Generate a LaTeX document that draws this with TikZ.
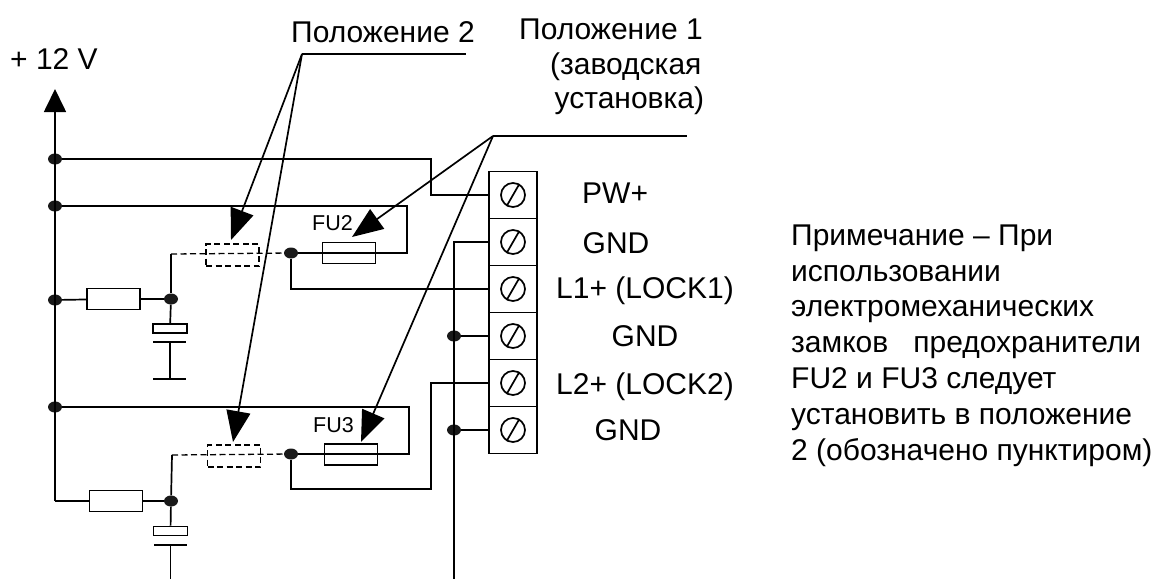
\documentclass[tikz,border=0pt]{standalone}
\usepackage{fontspec}
\setmainfont{Liberation Sans}
\usetikzlibrary{shapes,arrows.meta,positioning}
\tikzstyle{line} = [draw, line width=1.7pt]
\tikzstyle{dline} = [draw, line width=1.3pt, dash pattern=on 6pt off 3.5pt]
\tikzstyle{jnode} = [ellipse, fill=black!90, inner sep=0pt, minimum width=14pt, minimum height=11pt]
\tikzstyle{rnode} = [rectangle, draw, line width=1.7pt, inner sep=0pt, minimum width=53pt, minimum height=21pt]
\tikzstyle{dnode} = [rectangle, draw, line width=1.3pt, dash pattern=on 6pt off 3.5pt, inner sep=0pt, minimum width=53pt, minimum height=22pt]
\tikzstyle{cnode} = [rectangle, draw, line width=1.7pt, inner sep=0pt, minimum width=34pt, minimum height=9pt]
\tikzstyle{tnode} = [rectangle, draw, line width=1.7pt, inner sep=0pt, minimum width=48pt, minimum height=47pt]
\tikzstyle{snode} = [circle, draw, line width=1.7pt, inner sep=0pt, minimum size=24pt]
\tikzstyle{lbl} = [anchor=base west, inner sep=0pt, font=\fontsize{30}{32}\selectfont]
\tikzstyle{pointer} = [draw, line width=1.7pt, -{Triangle[length=31pt,width=24pt]}]
\begin{document}
\begin{tikzpicture}[x=1pt, y=-1pt]
	\useasboundingbox (0,0) rectangle (1155,579);

	% rail
	\node [jnode] (j1) at (55, 159) {};
	\node [jnode] (j2) at (55, 206) {};
	\node [jnode] (j3) at (55, 300) {};
	\node [jnode] (j4) at (55, 407) {};
	\coordinate (railtop) at (55, 89);
	\coordinate (railbot) at (55, 501);
	\path [draw, line width=1.7pt, -{Triangle[length=23pt,width=22pt]}] (railbot) -- (railtop);

	% terminal block
	\node [tnode] (t1) at (513, 195) {};
	\node [tnode] (t2) at (513, 242) {};
	\node [tnode] (t3) at (513, 289) {};
	\node [tnode] (t4) at (513, 336) {};
	\node [tnode] (t5) at (513, 383) {};
	\node [tnode] (t6) at (513, 430) {};
	\node [snode] (s1) at (513, 195) {};
	\node [snode] (s2) at (513, 242) {};
	\node [snode] (s3) at (513, 289) {};
	\node [snode] (s4) at (513, 336) {};
	\node [snode] (s5) at (513, 383) {};
	\node [snode] (s6) at (513, 430) {};
	\path [line] (s1.60) -- (s1.240);
	\path [line] (s2.60) -- (s2.240);
	\path [line] (s3.60) -- (s3.240);
	\path [line] (s4.60) -- (s4.240);
	\path [line] (s5.60) -- (s5.240);
	\path [line] (s6.60) -- (s6.240);

	% upper branch
	\node [rnode] (r1) at (113.5, 299) {};
	\node [jnode] (j5) at (171, 299) {};
	\node [cnode] (c1) at (170, 328.5) {};
	\coordinate (c1a) at (153, 342);
	\coordinate (c1b) at (186, 342);
	\coordinate (c1m) at (170, 342);
	\coordinate (c1c) at (153, 379);
	\coordinate (c1d) at (186, 379);
	\coordinate (c1e) at (170, 379);
	\node [dnode] (d1) at (232.5, 255) {};
	\node [rnode] (f1) at (349, 253) {};
	\node [jnode] (j6) at (291, 253) {};
	\coordinate (k1) at (171, 254);
	\coordinate (k2) at (407, 206);
	\coordinate (k3) at (407, 253);
	\coordinate (k4) at (431, 159);
	\coordinate (k5) at (431, 195);
	\coordinate (k6) at (291, 289);
	\path [line] (j1) -- (k4) -- (k5) -- (t1.west);
	\path [line] (j2) -- (k2) -- (k3) -- (j6);
	\path [line] (j6) -- (k6) -- (t3.west);
	\path [line] (j3) -- (r1);
	\path [line] (r1) -- (j5);
	\path [line] (k1) -- (j5);
	\path [line] (j5) -- (c1);
	\path [line] (c1a) -- (c1b);
	\path [line] (c1m) -- (c1e);
	\path [line] (c1c) -- (c1d);
	\path [dline] (k1) -- (j6);

	% lower branch
	\node [rnode] (r2) at (116, 501) {};
	\node [jnode] (j7) at (171, 501) {};
	\node [cnode] (c2) at (170.5, 531) {};
	\coordinate (c2a) at (154, 545);
	\coordinate (c2b) at (187, 545);
	\coordinate (c2m) at (170.5, 545);
	\coordinate (c2e) at (170.5, 579);
	\node [dnode] (d2) at (234, 456) {};
	\node [rnode] (f2) at (351, 454.5) {};
	\node [jnode] (j8) at (291, 454) {};
	\coordinate (k7) at (172, 455);
	\coordinate (k8) at (409, 407);
	\coordinate (k9) at (409, 454);
	\coordinate (k10) at (291, 489);
	\coordinate (k11) at (431, 489);
	\coordinate (k12) at (431, 383);
	\path [line] (j4) -- (k8) -- (k9) -- (j8);
	\path [line] (j8) -- (k10) -- (k11) -- (k12) -- (t5.west);
	\path [line] (railbot) -- (r2);
	\path [line] (r2) -- (j7);
	\path [line] (k7) -- (j7);
	\path [line] (j7) -- (c2);
	\path [line] (c2a) -- (c2b);
	\path [line] (c2m) -- (c2e);
	\path [dline] (k7) -- (j8);

	% ground
	\node [jnode] (j9) at (454, 336) {};
	\node [jnode] (j10) at (454, 430) {};
	\coordinate (g1) at (454, 242);
	\coordinate (g2) at (454, 579);
	\path [line] (t2.west) -- (g1) -- (g2);
	\path [line] (j9) -- (t4.west);
	\path [line] (j10) -- (t6.west);

	% leaders
	\coordinate (p2a) at (302, 54);
	\coordinate (p2b) at (466, 54);
	\coordinate (p2c) at (231, 240);
	\coordinate (p2d) at (233, 442);
	\coordinate (p1a) at (493, 136);
	\coordinate (p1b) at (687, 136);
	\coordinate (p1c) at (352, 237);
	\coordinate (p1d) at (361, 442);
	\path [line] (p2a) -- (p2b);
	\path [line] (p1a) -- (p1b);
	\path [pointer] (p2a) -- (p2c);
	\path [pointer] (p2a) -- (p2d);
	\path [pointer] (p1a) -- (p1c);
	\path [pointer] (p1a) -- (p1d);

	% labels
	\node [lbl] (vcc) at (10, 69) {+ 12 V};
	\node [lbl] (pos2) at (291, 42) {Положение 2};
	\node [lbl] (pos1) at (519, 39) {Положение 1};
	\node [lbl] (pos1b) at (550, 74) {(заводская};
	\node [lbl] (pos1c) at (554.5, 108) {установка)};
	\node [lbl, font=\fontsize{21.5}{24}\selectfont] (fu2) at (312, 230) {FU2};
	\node [lbl, font=\fontsize{21.5}{24}\selectfont] (fu3) at (313, 432) {FU3};
	\node [lbl] (l1) at (582, 203) {PW+};
	\node [lbl] (l2) at (582.5, 253) {GND};
	\node [lbl] (l3) at (556, 298) {L1+ (LOCK1)};
	\node [lbl] (l4) at (611.5, 346) {GND};
	\node [lbl] (l5) at (556, 394) {L2+ (LOCK2)};
	\node [lbl] (l6) at (594.5, 440) {GND};
	\node [anchor=north west, inner sep=0pt, align=left, font=\fontsize{30}{35.8}\selectfont] (note) at (791, 224.5) {Примечание – При\\использовании\\электромеханических\\замков\ \ \ предохранители\\FU2 и FU3 следует\\установить в положение\\2 (обозначено пунктиром)};
\end{tikzpicture}
\end{document}
